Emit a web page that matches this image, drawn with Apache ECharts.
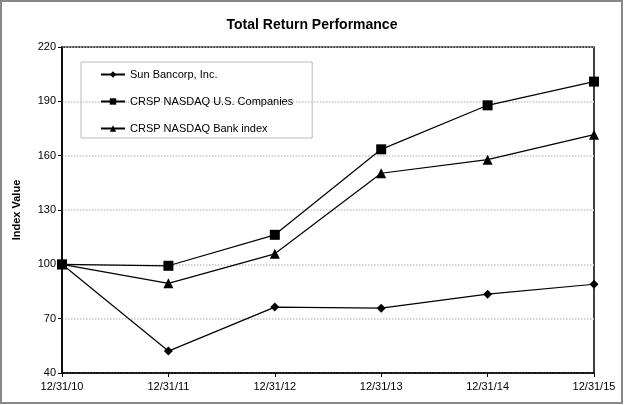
<!DOCTYPE html>
<html><head><meta charset="utf-8">
<script src="https://cdn.jsdelivr.net/npm/echarts@6/dist/echarts.min.js"></script>
<style>html,body{margin:0;padding:0;background:#fff}#c{width:624px;height:405px}</style>
</head><body><div id="c"></div>
<script>
const categories = ['12/31/10','12/31/11','12/31/12','12/31/13','12/31/14','12/31/15'];
const sunBancorp = [100, 52.1, 76.4, 75.8, 83.5, 89.0];
const crspUS = [100, 99.2, 116.3, 163.5, 187.8, 200.9];
const crspBank = [100, 89.5, 105.8, 150.3, 157.8, 171.6];
const yTicks = {min: 40, max: 220, interval: 30};

const chart = echarts.init(document.getElementById('c'));
const font = 'Arial, "Liberation Sans", sans-serif';
function s(name, data, symbol, size) {
  return {name, type: 'line', data, symbol, symbolSize: size,
    lineStyle: {color: '#000', width: 1.2}, itemStyle: {color: '#000'},
    animation: false};
}
chart.setOption({
  backgroundColor: '#fff',
  title: {text: 'Total Return Performance', left: 'center', top: 13,
    textStyle: {fontFamily: font, fontSize: 14, fontWeight: 'bold', color: '#000'}},
  graphic: [{type: 'rect', shape: {x: 1, y: 1, width: 621, height: 402},
    style: {fill: 'none', stroke: '#888', lineWidth: 2}, silent: true}],
  legend: {orient: 'vertical', left: 81, top: 62,
    padding: [7, 19, 4, 19], itemGap: 16, itemWidth: 24, itemHeight: 8,
    borderColor: '#bbb', borderWidth: 1,
    textStyle: {fontFamily: font, fontSize: 11, color: '#000'},
    data: ['Sun Bancorp, Inc.', 'CRSP NASDAQ U.S. Companies', 'CRSP NASDAQ Bank index']},
  grid: {left: 62, right: 30, top: 47, bottom: 32, show: true, borderColor: '#000', borderWidth: 1.5, containLabel: false},
  xAxis: {type: 'category', data: categories, boundaryGap: false,
    axisLine: {lineStyle: {color: '#000', width: 1.5}},
    axisTick: {show: true, alignWithLabel: true, length: 4, lineStyle: {color: '#000'}},
    axisLabel: {fontFamily: font, fontSize: 11, color: '#000', margin: 8},
    splitLine: {show: false}},
  yAxis: {type: 'value', min: yTicks.min, max: yTicks.max, interval: yTicks.interval,
    name: 'Index Value', nameLocation: 'middle', nameGap: 40, nameRotate: 90,
    nameTextStyle: {fontFamily: font, fontSize: 11, fontWeight: 'bold', color: '#000'},
    axisLine: {show: true, lineStyle: {color: '#000', width: 1.5}},
    axisTick: {show: true, length: 4, lineStyle: {color: '#000'}},
    axisLabel: {fontFamily: font, fontSize: 11, color: '#000', margin: 6},
    splitLine: {show: true, lineStyle: {color: '#c8c8c8', type: 'dotted', width: 1.5}}},
  series: [
    s('Sun Bancorp, Inc.', sunBancorp, 'diamond', 9),
    s('CRSP NASDAQ U.S. Companies', crspUS, 'rect', 10),
    s('CRSP NASDAQ Bank index', crspBank, 'triangle', 10)
  ]
});
</script></body></html>
